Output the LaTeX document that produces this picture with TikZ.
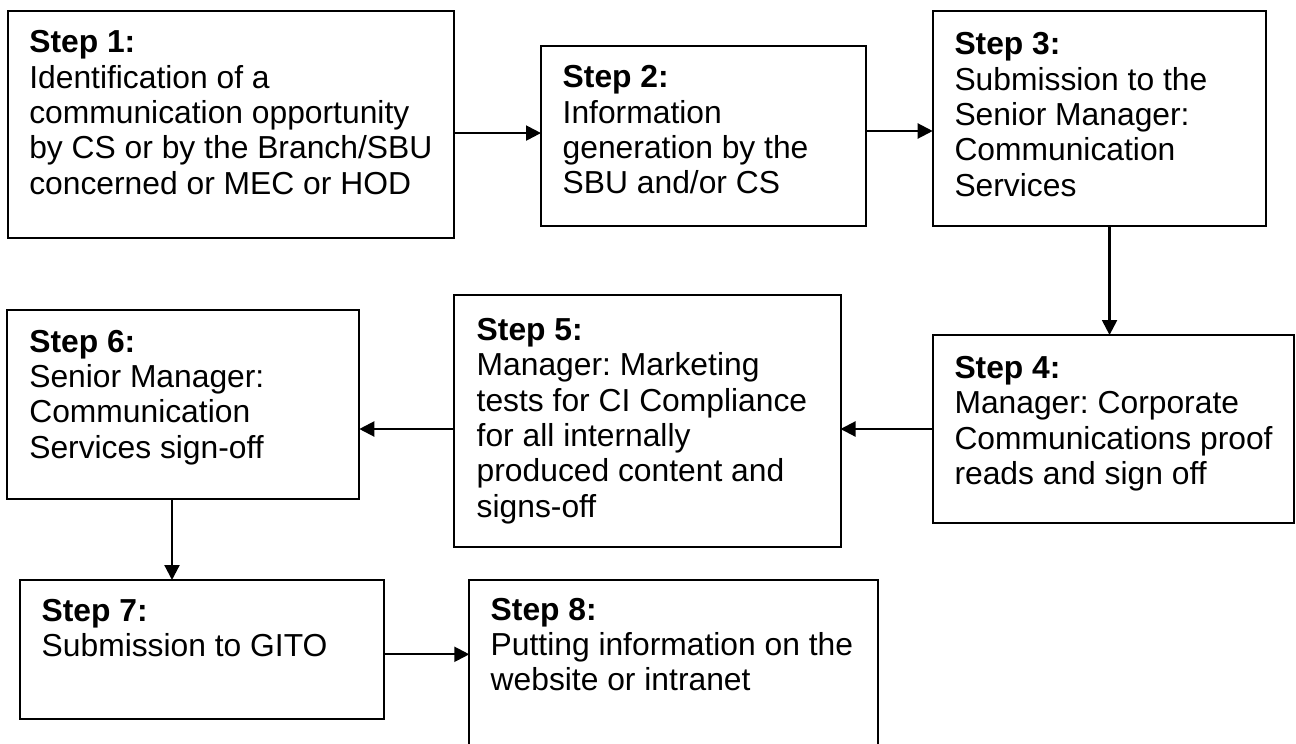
\documentclass[tikz,border=0pt]{standalone}
\usepackage{fontspec}
\setmainfont{Liberation Sans}
\usetikzlibrary{arrows.meta}
\frenchspacing
\tikzset{
  box/.style={draw=black, line width=1pt, rectangle, anchor=north west, inner sep=0pt, outer sep=0pt},
  txt/.style={anchor=north west, inner sep=0pt, outer sep=0pt, align=left,
    font=\fontsize{15.9pt}{17.65pt}\selectfont\frenchspacing},
  arr/.style={line width=1.1pt, -{Triangle[length=7.5pt,width=7.5pt]}}
}
\begin{document}
\begin{tikzpicture}[x=0.5pt,y=-0.5pt]
\useasboundingbox (0,0) rectangle (1296,744);
% boxes
\node[box, minimum width=223pt, minimum height=113.75pt] (s1) at (8,10.5) {};
\node[box, minimum width=162.35pt, minimum height=90pt] (s2) at (541,45.7) {};
\node[box, minimum width=166.65pt, minimum height=107.5pt] (s3) at (932.7,10.7) {};
\node[box, minimum width=180.65pt, minimum height=94pt] (s4) at (932.7,335) {};
\node[box, minimum width=193.25pt, minimum height=125.85pt] (s5) at (454,295) {};
\node[box, minimum width=176pt, minimum height=94.5pt] (s6) at (7.3,310) {};
\node[box, minimum width=182.15pt, minimum height=69.5pt] (s7) at (20,580) {};
\node[box, minimum width=204.5pt, minimum height=90pt] (s8) at (469.3,580) {};
% texts
\node[txt] (t1) at (29.3,30.7) {\textbf{Step 1:}\\Identification of a\\communication opportunity\\by CS or by the Branch/SBU\\concerned or MEC or HOD};
\node[txt] (t2) at (562.7,65.7) {\textbf{Step 2:}\\Information\\generation by the\\SBU and/or CS};
\node[txt] (t3) at (954.5,32.7) {\textbf{Step 3:}\\Submission to the\\Senior Manager:\\Communication\\Services};
\node[txt] (t4) at (954.5,356.4) {\textbf{Step 4:}\\Manager: Corporate\\Communications proof\\reads and sign off};
\node[txt] (t5) at (476.7,318.3) {\textbf{Step 5:}\\Manager: Marketing\\tests for CI Compliance\\for all internally\\produced content and\\signs-off};
\node[txt] (t6) at (29.3,330) {\textbf{Step 6:}\\Senior Manager:\\Communication\\Services sign-off};
\node[txt] (t7) at (41.7,599) {\textbf{Step 7:}\\Submission to GITO};
\node[txt] (t8) at (490.7,598) {\textbf{Step 8:}\\Putting information on the\\website or intranet};
% connectors
\draw[arr] ([yshift=-4.4pt]s1.east) -- ([yshift=-4.4pt]s1.east -| s2.west);
\draw[arr] ([yshift=2.35pt]s2.east) -- ([yshift=2.35pt]s2.east -| s3.west);
\draw[arr] ([xshift=5.1pt]s3.south) -- ([xshift=5.1pt]s3.south |- s4.north);
\draw[arr] (s4.west) -- (s4.west -| s5.east);
\draw[arr] (s4.west -| s5.west) -- (s4.west -| s6.east);
\draw[arr] ([xshift=-5.65pt]s6.south) -- ([xshift=-5.65pt]s6.south |- s7.north);
\draw[arr] ([yshift=-2.4pt]s7.east) -- ([yshift=-2.4pt]s7.east -| s8.west);
\end{tikzpicture}
\end{document}
